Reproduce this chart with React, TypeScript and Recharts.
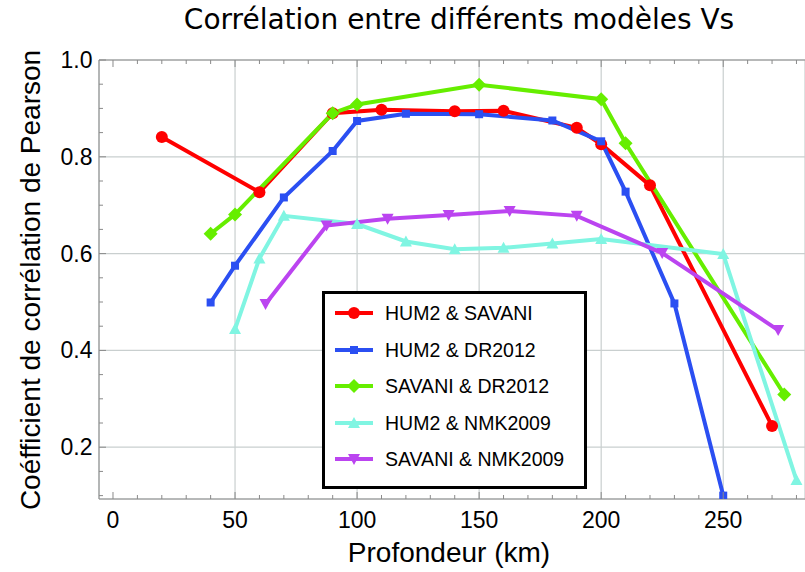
import React from 'react';
import { LineChart, Line, XAxis, YAxis, CartesianGrid, Legend } from 'recharts';

// depth (km) / Pearson coefficient
const HUM2_SAVANI = [
  { x: 20, y: 0.841 }, { x: 60, y: 0.727 }, { x: 90, y: 0.89 }, { x: 110, y: 0.897 },
  { x: 140, y: 0.894 }, { x: 160, y: 0.895 }, { x: 190, y: 0.86 }, { x: 200, y: 0.826 },
  { x: 220, y: 0.741 }, { x: 270, y: 0.244 },
];
const HUM2_DR2012 = [
  { x: 40, y: 0.499 }, { x: 50, y: 0.575 }, { x: 70, y: 0.716 }, { x: 90, y: 0.812 },
  { x: 100, y: 0.874 }, { x: 120, y: 0.889 }, { x: 150, y: 0.888 }, { x: 180, y: 0.875 },
  { x: 200, y: 0.832 }, { x: 210, y: 0.728 }, { x: 230, y: 0.497 }, { x: 250, y: 0.1 },
];
const SAVANI_DR2012 = [
  { x: 40, y: 0.641 }, { x: 50, y: 0.681 }, { x: 90, y: 0.89 }, { x: 100, y: 0.908 },
  { x: 150, y: 0.949 }, { x: 200, y: 0.919 }, { x: 210, y: 0.828 }, { x: 275, y: 0.309 },
];
const HUM2_NMK2009 = [
  { x: 50, y: 0.444 }, { x: 60, y: 0.59 }, { x: 70, y: 0.678 }, { x: 100, y: 0.661 },
  { x: 120, y: 0.625 }, { x: 140, y: 0.609 }, { x: 160, y: 0.612 }, { x: 180, y: 0.621 },
  { x: 200, y: 0.63 }, { x: 250, y: 0.599 }, { x: 280, y: 0.132 },
];
const SAVANI_NMK2009 = [
  { x: 62.5, y: 0.496 }, { x: 87.5, y: 0.658 }, { x: 112.5, y: 0.672 }, { x: 137.5, y: 0.68 },
  { x: 162.5, y: 0.688 }, { x: 190, y: 0.678 }, { x: 225, y: 0.601 }, { x: 272.5, y: 0.442 },
];

const SERIES = [
  { name: 'HUM2 & SAVANI', color: '#ff0000', shape: 'circle', data: HUM2_SAVANI },
  { name: 'HUM2 & DR2012', color: '#2b4ff2', shape: 'square', data: HUM2_DR2012 },
  { name: 'SAVANI & DR2012', color: '#66ee00', shape: 'diamond', data: SAVANI_DR2012 },
  { name: 'HUM2 & NMK2009', color: '#80f5e2', shape: 'up', data: HUM2_NMK2009 },
  { name: 'SAVANI & NMK2009', color: '#bb44f0', shape: 'down', data: SAVANI_NMK2009 },
];

const X_TICKS = [0, 10, 20, 30, 40, 50, 60, 70, 80, 90, 100, 110, 120, 130, 140, 150, 160, 170, 180, 190, 200, 210, 220, 230, 240, 250, 260, 270, 280];
const Y_TICKS = [0.1, 0.15, 0.2, 0.25, 0.3, 0.35, 0.4, 0.45, 0.5, 0.55, 0.6, 0.65, 0.7, 0.75, 0.8, 0.85, 0.9, 0.95, 1.0];
const GRID_X = [50, 100, 150, 200, 250];
const GRID_Y = [0.2, 0.4, 0.6, 0.8];
const X_DOMAIN = [-5.73, 283.5];
const Y_DOMAIN = [0.093, 1.0];

const FRAME = '#8a8a8a';
const FONT = '"Liberation Sans", Arial, sans-serif';

const Marker = ({ shape, cx, cy, color }: any) => {
  switch (shape) {
    case 'circle':
      return <circle cx={cx} cy={cy} r={6} fill={color} />;
    case 'square':
      return <rect x={cx - 4} y={cy - 4} width={8} height={8} fill={color} />;
    case 'diamond':
      return <polygon points={`${cx},${cy - 7} ${cx + 7},${cy} ${cx},${cy + 7} ${cx - 7},${cy}`} fill={color} />;
    case 'up':
      return <polygon points={`${cx - 6},${cy + 5} ${cx + 6},${cy + 5} ${cx},${cy - 6}`} fill={color} />;
    default:
      return <polygon points={`${cx - 6},${cy - 5} ${cx + 6},${cy - 5} ${cx},${cy + 6}`} fill={color} />;
  }
};

const isMajorX = (v: number) => v % 50 === 0;
const isMajorY = (v: number) => Math.abs(v * 5 - Math.round(v * 5)) < 1e-6;

const BottomTick = ({ x, y, payload }: any) => {
  const major = isMajorX(payload.value);
  return (
    <g>
      <line x1={x} x2={x} y1={y} y2={y - (major ? 7 : 4)} stroke={FRAME} />
      {major && (
        <text x={x} y={y + 21} textAnchor="middle" dominantBaseline="central" fontSize={23} fontFamily={FONT} fill="#000">
          {payload.value}
        </text>
      )}
    </g>
  );
};

const TopTick = ({ x, y, payload }: any) => (
  <line x1={x} x2={x} y1={y} y2={y + (isMajorX(payload.value) ? 7 : 4)} stroke={FRAME} />
);

const LeftTick = ({ x, y, payload }: any) => {
  const major = isMajorY(payload.value);
  return (
    <g>
      <line x1={x} x2={x + (major ? 7 : 4)} y1={y} y2={y} stroke={FRAME} />
      {major && (
        <text x={x - 6.5} y={y} textAnchor="end" dominantBaseline="central" fontSize={23} fontFamily={FONT} fill="#000">
          {payload.value.toFixed(1)}
        </text>
      )}
    </g>
  );
};

// keep the legend in series order (recharts sorts the payload by name)
const renderLegend = (props: any) => {
  const names = new Set((props.payload || []).map((p: any) => p.value));
  const items = names.size ? SERIES.filter((s) => names.has(s.name)) : SERIES;
  return (
    <div style={{ boxSizing: 'border-box', width: 265, height: 198, border: '3px solid #000', background: '#fff', padding: '1px 0 0 10px', fontFamily: FONT, fontSize: 19.5, color: '#000' }}>
      {items.map((s) => (
        <div key={s.name} style={{ height: 36.5, display: 'flex', alignItems: 'center' }}>
          <svg width={38} height={16}>
            <line x1={0} x2={38} y1={8} y2={8} stroke={s.color} strokeWidth={4} />
            <Marker shape={s.shape} cx={19} cy={8} color={s.color} />
          </svg>
          <span style={{ marginLeft: 12, lineHeight: '20px' }}>{s.name}</span>
        </div>
      ))}
    </div>
  );
};

export default function App() {
  return (
    <div style={{ position: 'absolute', left: 0, top: 0, width: 805, height: 572, background: '#fff' }}>
      <div style={{ position: 'absolute', left: 59, top: 5, width: 800, textAlign: 'center', fontFamily: '"DejaVu Sans", sans-serif', fontSize: 28, lineHeight: '30px' }}>
        Corrélation entre différents modèles Vs
      </div>
      <div style={{ position: 'absolute', left: 31 - 300, top: 280 - 17, width: 600, height: 34, lineHeight: '34px', textAlign: 'center', fontFamily: FONT, fontSize: 28, transform: 'rotate(-90deg)', zIndex: 2 }}>
        Coéfficient de corrélation de Pearson
      </div>
      <div style={{ position: 'absolute', left: 449 - 300, top: 553 - 17, width: 600, height: 34, lineHeight: '34px', textAlign: 'center', fontFamily: FONT, fontSize: 28, zIndex: 2 }}>
        Profondeur (km)
      </div>
      <LineChart width={805} height={572} margin={{ top: 30, right: 0, bottom: 0, left: 0 }}>
        <XAxis xAxisId="grid" type="number" dataKey="x" domain={X_DOMAIN} ticks={GRID_X} allowDataOverflow hide />
        <YAxis yAxisId="grid" type="number" domain={Y_DOMAIN} ticks={GRID_Y} allowDataOverflow hide />
        <CartesianGrid xAxisId="grid" yAxisId="grid" stroke="#c9cfcf" strokeWidth={1.2} />
        <XAxis type="number" dataKey="x" domain={X_DOMAIN} ticks={X_TICKS} allowDataOverflow interval={0}
          height={73} tickSize={0} tickMargin={0} axisLine={{ stroke: FRAME }} tickLine={false} tick={<BottomTick />} />
        <XAxis xAxisId="top" orientation="top" type="number" dataKey="x" domain={X_DOMAIN} ticks={X_TICKS} allowDataOverflow interval={0}
          height={30} tickSize={0} tickMargin={0} axisLine={{ stroke: FRAME }} tickLine={false} tick={<TopTick />} />
        <YAxis type="number" domain={Y_DOMAIN} ticks={Y_TICKS} allowDataOverflow interval={0}
          width={99} tickSize={0} tickMargin={0} axisLine={{ stroke: FRAME }} tickLine={false} tick={<LeftTick />} />
        {SERIES.map((s) => (
          <Line key={s.name} name={s.name} data={s.data} dataKey="y" type="linear" stroke={s.color} strokeWidth={4}
            isAnimationActive={false}
            dot={(p: any) => <Marker key={`${s.name}-${p.index}`} shape={s.shape} cx={p.cx} cy={p.cy} color={s.color} />}
            activeDot={false} />
        ))}
        <Legend layout="vertical" align="center" verticalAlign="middle" content={renderLegend}
          wrapperStyle={{ left: 322, top: 291, width: 265, height: 198 }} />
      </LineChart>
    </div>
  );
}
